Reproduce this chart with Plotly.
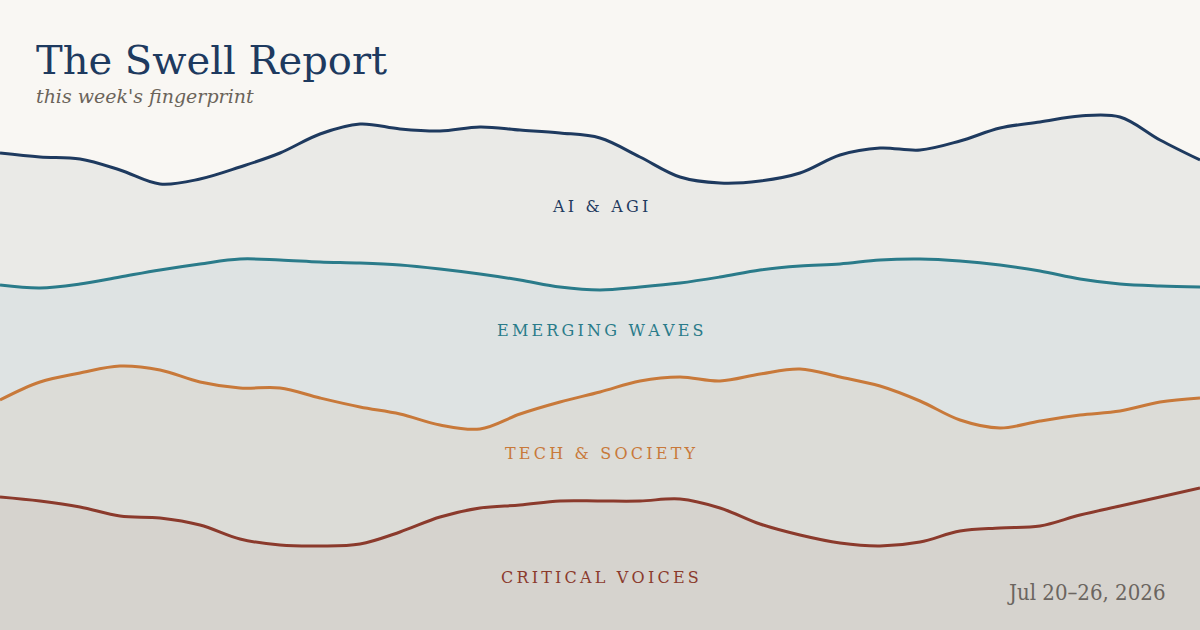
import plotly.graph_objects as go

# sample slots across the week (one every 40px of the canvas)
slots = list(range(31))

# height of each swell above the bottom edge
ai_agi = [477, 473, 471, 460, 446, 451, 463, 477, 496, 506, 501, 499, 503, 500, 497, 492,
          473, 453, 447, 449, 457, 475, 482, 480, 489, 502, 508, 514, 513, 490, 470]
emerging = [345, 342, 346, 353, 360, 366, 371, 370, 368, 367, 365, 361, 356, 350, 343, 340,
            343, 347, 353, 360, 364, 366, 370, 371, 369, 365, 359, 351, 346, 344, 343]
tech_society = [230, 248, 257, 264, 260, 248, 242, 242, 232, 223, 216, 205, 201, 216, 228, 238,
                249, 253, 249, 256, 261, 253, 244, 229, 210, 202, 209, 215, 219, 228, 232]
critical = [133, 129, 123, 114, 112, 105, 91, 85, 84, 86, 98, 113, 122, 125, 129, 129,
            129, 131, 122, 106, 95, 87, 84, 88, 99, 102, 104, 115, 124, 133, 142]

labels = ["AI & AGI", "EMERGING WAVES", "TECH & SOCIETY", "CRITICAL VOICES"]
series = [ai_agi, emerging, tech_society, critical]
line_colors = ["#1e3a5f", "#2a7b8a", "#c8793a", "#8b3a2c"]
fill_colors = ["#eaeae7", "#dee3e3", "#dcdcd7", "#d6d3ce"]
label_y = [207, 330, 453, 577]

SERIF = "DejaVu Serif, serif"


def spaced(s):
    # mimic css letter-spacing with thin spaces
    return "\u2009".join(s)


fig = go.Figure()
for name, ys, lc, fc in zip(labels, series, line_colors, fill_colors):
    fig.add_trace(go.Scatter(
        x=slots, y=ys, name=name,
        mode="lines",
        line=dict(color=lc, width=3, shape="spline", smoothing=1),
        fill="tozeroy", fillcolor=fc,
        hoverinfo="skip",
    ))

annotations = []
for name, lc, py in zip(labels, line_colors, label_y):
    annotations.append(dict(
        text=spaced(name), x=0.5, y=1 - py / 630, xref="paper", yref="paper",
        xanchor="center", yanchor="middle", showarrow=False,
        font=dict(family=SERIF, size=16, color=lc),
    ))

annotations += [
    dict(text="The Swell Report", x=34 / 1200, y=1 - 60 / 630, xref="paper", yref="paper",
         xanchor="left", yanchor="middle", showarrow=False,
         font=dict(family=SERIF, size=40, color="#1e3a5f")),
    dict(text="this week's fingerprint", x=34 / 1200, y=1 - 96 / 630, xref="paper", yref="paper",
         xanchor="left", yanchor="middle", showarrow=False,
         font=dict(family=SERIF, size=19, color="#6b645a", style="italic")),
    dict(text="Jul 20\u201326, 2026", x=1167 / 1200, y=1 - 592 / 630, xref="paper", yref="paper",
         xanchor="right", yanchor="middle", showarrow=False,
         font=dict(family="DejaVu Serif Condensed, DejaVu Serif, serif", size=22, color="#6b6560")),
]

fig.update_layout(
    width=1200, height=630,
    margin=dict(l=0, r=0, t=0, b=0),
    paper_bgcolor="#f9f7f3", plot_bgcolor="#f9f7f3",
    showlegend=False,
    xaxis=dict(range=[0, 30], visible=False, fixedrange=True),
    yaxis=dict(range=[0, 630], visible=False, fixedrange=True),
    annotations=annotations,
)

fig.write_html("out.html", config={"displayModeBar": False},
               post_script="document.body.style.margin='0';")
